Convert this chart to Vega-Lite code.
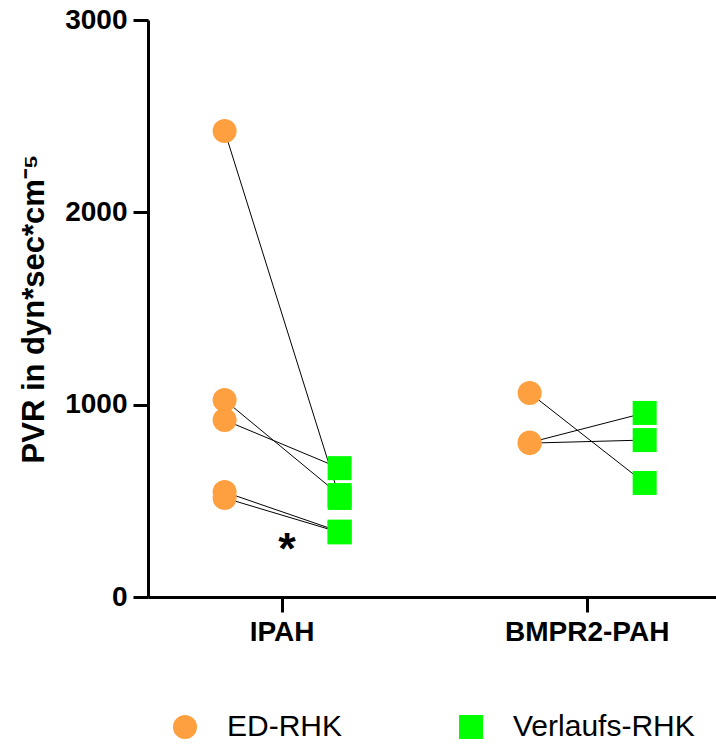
{
  "$schema": "https://vega.github.io/schema/vega-lite/v6.json",
  "width": 568,
  "height": 577,
  "autosize": {"type": "none"},
  "padding": {"left": 148, "top": 20, "right": 0, "bottom": 147},
  "background": "white",
  "config": {
    "view": {"stroke": null},
    "font": "Liberation Sans",
    "axis": {
      "domainColor": "black", "domainWidth": 3,
      "tickColor": "black", "tickWidth": 3, "tickSize": 15,
      "labelFont": "Liberation Sans", "labelFontSize": 28, "labelFontWeight": "bold", "labelColor": "black",
      "titleFont": "Liberation Sans", "titleFontSize": 31, "titleFontWeight": "bold", "titleColor": "black",
      "grid": false
    },
    "legend": {
      "orient": "none", "legendX": 22, "legendY": 692,
      "direction": "horizontal", "columns": 2,
      "labelFont": "Liberation Sans", "labelFontSize": 30, "labelColor": "black", "labelLimit": 400,
      "symbolSize": 576, "labelOffset": 27, "columnPadding": 113,
      "symbolStrokeWidth": 0
    }
  },
  "data": {
    "values": [
      {"group": "IPAH", "time": "ED-RHK", "value": 2423, "pair": "i1"},
      {"group": "IPAH", "time": "Verlaufs-RHK", "value": 515, "pair": "i1"},
      {"group": "IPAH", "time": "ED-RHK", "value": 1024, "pair": "i2"},
      {"group": "IPAH", "time": "Verlaufs-RHK", "value": 530, "pair": "i2"},
      {"group": "IPAH", "time": "ED-RHK", "value": 920, "pair": "i3"},
      {"group": "IPAH", "time": "Verlaufs-RHK", "value": 670, "pair": "i3"},
      {"group": "IPAH", "time": "ED-RHK", "value": 546, "pair": "i4"},
      {"group": "IPAH", "time": "Verlaufs-RHK", "value": 340, "pair": "i4"},
      {"group": "IPAH", "time": "ED-RHK", "value": 515, "pair": "i5"},
      {"group": "IPAH", "time": "Verlaufs-RHK", "value": 336, "pair": "i5"},
      {"group": "BMPR2-PAH", "time": "ED-RHK", "value": 1061, "pair": "b1"},
      {"group": "BMPR2-PAH", "time": "Verlaufs-RHK", "value": 593, "pair": "b1"},
      {"group": "BMPR2-PAH", "time": "ED-RHK", "value": 803, "pair": "b2"},
      {"group": "BMPR2-PAH", "time": "Verlaufs-RHK", "value": 957, "pair": "b2"},
      {"group": "BMPR2-PAH", "time": "ED-RHK", "value": 800, "pair": "b3"},
      {"group": "BMPR2-PAH", "time": "Verlaufs-RHK", "value": 816, "pair": "b3"}
    ]
  },
  "encoding": {
    "x": {
      "field": "group", "type": "nominal", "sort": ["IPAH", "BMPR2-PAH"],
      "scale": {"paddingInner": 0.246, "paddingOuter": 0.054, "align": 0.58},
      "axis": {"title": null, "labelAngle": 0, "labelPadding": 6}
    },
    "y": {
      "field": "value", "type": "quantitative",
      "scale": {"domain": [0, 3000], "nice": false},
      "axis": {"values": [0, 1000, 2000, 3000], "format": "d", "title": "PVR in dyn*sec*cm⁻⁵", "labelPadding": 6, "titlePadding": 14}
    }
  },
  "layer": [
    {
      "mark": {"type": "line", "color": "black", "strokeWidth": 1},
      "encoding": {
        "xOffset": {"field": "time", "type": "nominal", "sort": ["ED-RHK", "Verlaufs-RHK"]},
        "detail": {"field": "pair", "type": "nominal"}
      }
    },
    {
      "mark": {"type": "point", "filled": true, "opacity": 1, "size": 576},
      "encoding": {
        "xOffset": {"field": "time", "type": "nominal", "sort": ["ED-RHK", "Verlaufs-RHK"]},
        "color": {"field": "time", "type": "nominal", "scale": {"domain": ["ED-RHK", "Verlaufs-RHK"], "range": ["#FFA040", "#00FF00"]}, "legend": {"title": null}},
        "shape": {"field": "time", "type": "nominal", "scale": {"domain": ["ED-RHK", "Verlaufs-RHK"], "range": ["circle", "square"]}, "legend": {"title": null}}
      }
    },
    {
      "data": {"values": [{"group": "IPAH", "value": 172, "label": "*"}]},
      "mark": {"type": "text", "fontSize": 45, "fontWeight": "bold", "dx": 5, "baseline": "alphabetic", "color": "black"},
      "encoding": {"text": {"field": "label", "type": "nominal"}}
    }
  ]
}
